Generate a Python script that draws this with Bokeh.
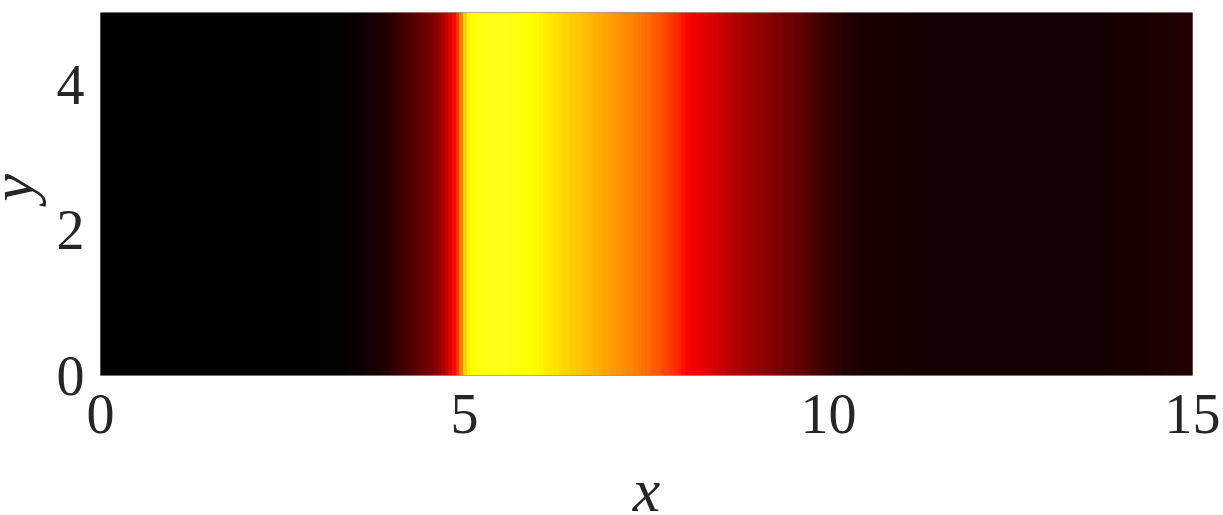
import numpy as np
from bokeh.plotting import figure
from bokeh.layouts import row, column
from bokeh.models import LinearColorMapper, FixedTicker
from bokeh.core.properties import value
from bokeh.embed import file_html
from bokeh.resources import INLINE

# profile of the field along x (one sample every 0.05 from x = 0), in colormap units 0..1
x_start = 0.0
x_step = 0.05
profile = [
    # 0.00 - 0.95
    0.0, 0.0, 0.0, 0.0, 0.0, 0.0, 0.0, 0.0, 0.0, 0.0, 0.0, 0.0, 0.0, 0.0, 0.0, 0.0, 0.0, 0.0, 0.0, 0.0,
    # 1.00 - 1.95
    0.0, 0.0, 0.0, 0.0, 0.0, 0.0, 0.0, 0.0, 0.0, 0.0, 0.0, 0.0, 0.0, 0.0, 0.0, 0.0, 0.0, 0.0, 0.0, 0.0,
    # 2.00 - 2.95
    0.0, 0.0, 0.0, 0.0, 0.0, 0.0, 0.0, 0.0, 0.0, 0.0, 0.001, 0.001, 0.001, 0.002, 0.002, 0.002, 0.002, 0.003, 0.003, 0.003,
    # 3.00 - 3.95
    0.003, 0.004, 0.004, 0.005, 0.006, 0.007, 0.009, 0.010, 0.012, 0.014,
    0.016, 0.018, 0.021, 0.024, 0.028, 0.032, 0.036, 0.042, 0.048, 0.056,
    # 4.00 - 4.95
    0.065, 0.075, 0.085, 0.095, 0.105, 0.116, 0.128, 0.139, 0.150, 0.161,
    0.172, 0.185, 0.200, 0.220, 0.250, 0.285, 0.330, 0.385, 0.450, 0.560,
    # 5.00 - 5.95
    0.680, 0.730, 0.750, 0.755, 0.762, 0.765, 0.768, 0.770, 0.772, 0.772,
    0.772, 0.771, 0.770, 0.768, 0.765, 0.762, 0.758, 0.754, 0.750, 0.745,
    # 6.00 - 6.95
    0.740, 0.733, 0.726, 0.718, 0.711, 0.704, 0.697, 0.691, 0.685, 0.679,
    0.673, 0.667, 0.661, 0.654, 0.648, 0.641, 0.634, 0.628, 0.621, 0.614,
    # 7.00 - 7.95
    0.607, 0.600, 0.593, 0.586, 0.580, 0.574, 0.567, 0.560, 0.552, 0.543,
    0.533, 0.522, 0.511, 0.500, 0.489, 0.477, 0.466, 0.454, 0.440, 0.423,
    # 8.00 - 8.95
    0.400, 0.378, 0.365, 0.355, 0.348, 0.342, 0.335, 0.327, 0.319, 0.311,
    0.302, 0.293, 0.284, 0.275, 0.266, 0.258, 0.250, 0.243, 0.237, 0.231,
    # 9.00 - 9.95
    0.225, 0.218, 0.211, 0.204, 0.197, 0.190, 0.183, 0.177, 0.171, 0.165,
    0.159, 0.152, 0.145, 0.137, 0.129, 0.121, 0.113, 0.105, 0.097, 0.090,
    # 10.00 - 10.95
    0.083, 0.076, 0.069, 0.063, 0.058, 0.053, 0.049, 0.046, 0.044, 0.042,
    0.041, 0.040, 0.039, 0.039, 0.038, 0.038, 0.037, 0.037, 0.037, 0.036,
    # 11.00 - 11.95
    0.036, 0.036, 0.036, 0.035, 0.035, 0.035, 0.035, 0.035, 0.035, 0.035,
    0.035, 0.035, 0.035, 0.035, 0.035, 0.035, 0.035, 0.035, 0.035, 0.035,
    # 12.00 - 12.95
    0.035, 0.035, 0.035, 0.035, 0.035, 0.035, 0.035, 0.035, 0.035, 0.035,
    0.035, 0.035, 0.035, 0.035, 0.035, 0.035, 0.035, 0.035, 0.035, 0.035,
    # 13.00 - 13.95
    0.035, 0.035, 0.035, 0.035, 0.035, 0.035, 0.035, 0.035, 0.035, 0.035,
    0.035, 0.035, 0.035, 0.035, 0.035, 0.035, 0.035, 0.035, 0.036, 0.036,
    # 14.00 - 14.95
    0.036, 0.036, 0.037, 0.037, 0.038, 0.038, 0.039, 0.039, 0.040, 0.040,
    0.041, 0.042, 0.043, 0.044, 0.045, 0.046, 0.047, 0.048, 0.049, 0.050,
    # 15.00
    0.052,
]
y_min, y_max = 0.0, 5.0
x_min, x_max = 0.0, 15.0
x_ticks = [0, 5, 10, 15]
y_ticks = [0, 2, 4]
x_label = "x"
y_label = "y"

TEXT = "#262626"
FONT = "Liberation Serif"


# MATLAB-like "hot" colour map
def hot_palette(n=256):
    pal = []
    for i in range(n):
        t = i / (n - 1)
        r = min(1.0, t / 0.375)
        g = min(1.0, max(0.0, (t - 0.375) / 0.375))
        b = min(1.0, max(0.0, (t - 0.75) / 0.25))
        pal.append("#%02x%02x%02x" % (int(round(r * 255)), int(round(g * 255)), int(round(b * 255))))
    return pal


vals = np.array(profile)
field = np.vstack([vals, vals])  # the field does not vary along y

mapper = LinearColorMapper(palette=hot_palette(), low=0.0, high=1.0)

# ---- layout sizes (pixels) ----
YLAB_W = 50
MAIN_TOP, FRAME_W, FRAME_H, MAIN_BOTTOM, MAIN_RIGHT = 12, 1092, 363, 82, 31
MAIN_H = MAIN_TOP + FRAME_H + MAIN_BOTTOM
TOTAL_W = 1223
XLAB_H = 515 - MAIN_H - 1

p = figure(
    frame_width=FRAME_W, frame_height=FRAME_H,
    x_range=(x_min, x_max), y_range=(y_min, y_max),
    output_backend="svg", toolbar_location=None,
    min_border_left=100 - YLAB_W, min_border_top=MAIN_TOP,
    min_border_right=MAIN_RIGHT, min_border_bottom=MAIN_BOTTOM,
)
n = len(profile)
p.image(image=[field], x=x_start - x_step / 2, y=y_min, dw=x_step * n, dh=y_max - y_min,
        color_mapper=mapper)

p.grid.visible = False
p.outline_line_color = "#9a9a9a"
p.outline_line_width = 1
p.background_fill_color = "white"

for ax in (p.xaxis[0], p.yaxis[0]):
    ax.axis_line_color = None
    ax.major_tick_line_color = None
    ax.minor_tick_line_color = None
    ax.major_tick_out = 0
    ax.major_tick_in = 0
    ax.minor_tick_out = 0
    ax.major_label_text_font = FONT
    ax.major_label_text_font_size = "56px"
    ax.major_label_text_color = TEXT

p.xaxis.ticker = FixedTicker(ticks=x_ticks)
p.yaxis.ticker = FixedTicker(ticks=y_ticks)
p.xaxis.major_label_standoff = 19
p.yaxis.major_label_standoff = 16


def blank_fig(w, h):
    f = figure(width=w, height=h, x_range=(0, w), y_range=(0, h),
               output_backend="svg", toolbar_location=None,
               x_axis_location=None, y_axis_location=None, min_border=0)
    f.grid.visible = False
    f.outline_line_color = None
    f.background_fill_color = "white"
    f.border_fill_color = "white"
    return f


# y axis title (rotated), in its own strip to the left of the axes
ylab = blank_fig(YLAB_W, MAIN_H)
ylab.text(x=[11], y=[MAIN_H - (MAIN_TOP + FRAME_H / 2) - 27], text=[y_label], angle=np.pi / 2,
          text_font=value(FONT), text_font_style="italic", text_font_size="62px",
          text_color=TEXT, text_align="center", text_baseline="alphabetic")

# x axis title, in its own strip under the axes
xlab = blank_fig(TOTAL_W, XLAB_H)
xlab.text(x=[100 + FRAME_W / 2], y=[XLAB_H - (508 - MAIN_H) + 19], text=[x_label],
          text_font=value(FONT), text_font_style="italic", text_font_size="62px",
          text_color=TEXT, text_align="center", text_baseline="alphabetic")

layout = column(row(ylab, p, spacing=0), xlab, spacing=0)

open("out.html", "w").write(file_html(layout, INLINE))
